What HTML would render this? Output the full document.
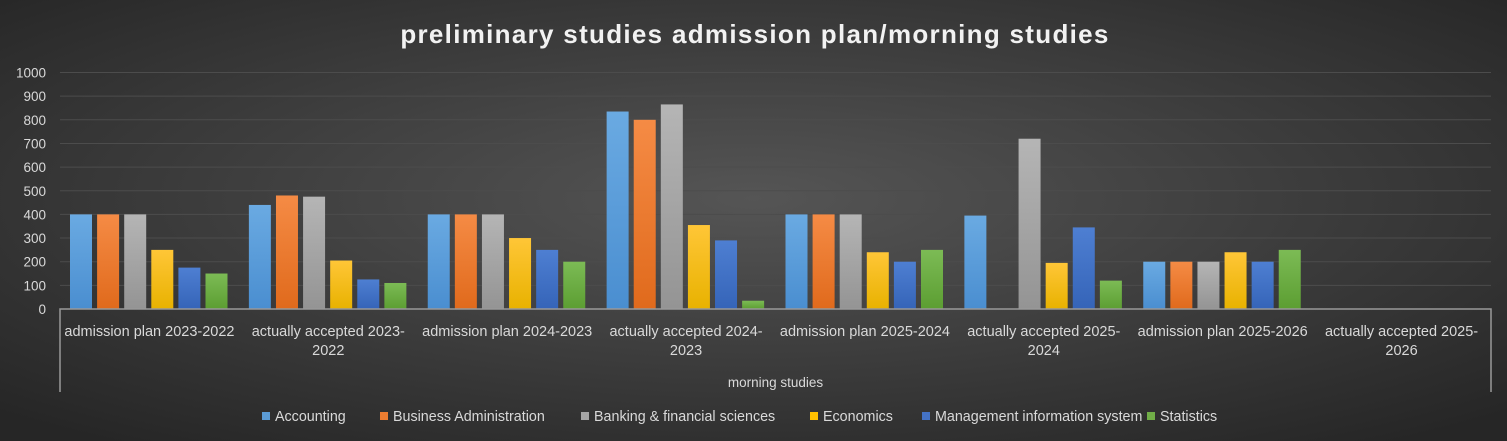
<!DOCTYPE html>
<html><head><meta charset="utf-8"><style>
html,body{margin:0;padding:0;width:1507px;height:441px;overflow:hidden;background:#333}
svg{display:block;font-family:"Liberation Sans","DejaVu Sans",sans-serif}
</style></head><body>
<svg id="chart" width="1507" height="441" viewBox="0 0 1507 441" xmlns="http://www.w3.org/2000/svg">
<defs>
<radialGradient id="bg" cx="50%" cy="45%" r="70%">
<stop offset="0" stop-color="#555"/><stop offset="1" stop-color="#262626"/>
</radialGradient>
<linearGradient id="g0" x1="0" y1="0" x2="0" y2="1"><stop offset="0" stop-color="#6aaae2"/><stop offset="1" stop-color="#4a8ed0"/></linearGradient>
<linearGradient id="g1" x1="0" y1="0" x2="0" y2="1"><stop offset="0" stop-color="#f58b45"/><stop offset="1" stop-color="#e06a1c"/></linearGradient>
<linearGradient id="g2" x1="0" y1="0" x2="0" y2="1"><stop offset="0" stop-color="#b5b5b5"/><stop offset="1" stop-color="#949494"/></linearGradient>
<linearGradient id="g3" x1="0" y1="0" x2="0" y2="1"><stop offset="0" stop-color="#ffc637"/><stop offset="1" stop-color="#e8b200"/></linearGradient>
<linearGradient id="g4" x1="0" y1="0" x2="0" y2="1"><stop offset="0" stop-color="#4e7fd2"/><stop offset="1" stop-color="#3564b8"/></linearGradient>
<linearGradient id="g5" x1="0" y1="0" x2="0" y2="1"><stop offset="0" stop-color="#7cbb55"/><stop offset="1" stop-color="#5c9e32"/></linearGradient>
</defs>
<rect width="1507" height="441" fill="url(#bg)"/>
<text x="755" y="43" text-anchor="middle" fill="#f2f2f2" font-size="26" font-weight="bold" letter-spacing="1.3">preliminary studies admission plan/morning studies</text>
<g id="grid"></g><g id="bars"></g><g id="axes"></g><g id="legend"></g>
</svg>
<script>
const categories=[["admission plan 2023-2022"],["actually accepted 2023-","2022"],["admission plan  2024-2023"],["actually accepted 2024-","2023"],["admission plan 2025-2024"],["actually accepted 2025-","2024"],["admission plan 2025-2026"],["actually accepted 2025-","2026"]];
const seriesNames=["Accounting","Business Administration","Banking & financial sciences","Economics","Management information system","Statistics"];
const accounting=[400,440,400,835,400,395,200,0];
const businessAdmin=[400,480,400,800,400,0,200,0];
const banking=[400,475,400,865,400,720,200,0];
const economics=[250,205,300,355,240,195,240,0];
const mis=[175,125,250,290,200,345,200,0];
const statistics=[150,110,200,35,250,120,250,0];
const yTicks=[0,100,200,300,400,500,600,700,800,900,1000];
const series=[accounting,businessAdmin,banking,economics,mis,statistics];
const NS="http://www.w3.org/2000/svg";
const L=60,R=1491,B=309,T=72.5,YMAX=1000;
const y=v=>B-(v/YMAX)*(B-T);
const cw=(R-L)/categories.length;
const x=i=>L+i*cw;
function mk(tag,attrs,parent){const e=document.createElementNS(NS,tag);for(const k in attrs)e.setAttribute(k,attrs[k]);document.getElementById(parent).appendChild(e);return e;}
yTicks.forEach(t=>{
  if(t>0){const l=mk('line',{x1:L,x2:R,y1:y(t),y2:y(t),stroke:'#4c4c4c','stroke-width':1},'grid');
  
  }
  const tx=mk('text',{x:46,y:y(t)+5,'text-anchor':'end',fill:'#d9d9d9','font-size':13.5},'axes');tx.textContent=t;
  
  
});
const bw=22,step=27.1,off=10;
series.forEach((s,si)=>{s.forEach((v,ci)=>{if(v<=0)return;
  const r=mk('rect',{x:x(ci)+off+si*step,y:y(v),width:bw,height:B-y(v),fill:'url(#g'+si+')'},'bars');
  
  
});});
const ax=mk('path',{d:`M${L} 392 V${B} H${R} V392`,stroke:'#999','stroke-width':1.5,fill:'none'},'axes');


categories.forEach((c,i)=>{c.forEach((line,j)=>{
  const t=mk('text',{x:x(i)+cw/2,y:336+j*19,'text-anchor':'middle',fill:'#d9d9d9','font-size':14.5},'axes');t.textContent=line;
  
  
});});
const gt=mk('text',{x:(L+R)/2,y:387,'text-anchor':'middle',fill:'#d9d9d9','font-size':13.5},'axes');gt.textContent='morning studies';


const lx=[262,380,581,810,922,1147];
const lc=['#5b9bd5','#ed7d31','#a5a5a5','#ffc000','#4472c4','#70ad47'];
seriesNames.forEach((n,i)=>{
  const m=mk('rect',{x:lx[i],y:412,width:8,height:8,fill:lc[i]},'legend');
  
  
  const t=mk('text',{x:lx[i]+13,y:421,fill:'#d9d9d9','font-size':14.3},'legend');t.textContent=n;
  
  
});
</script>
</body></html>
